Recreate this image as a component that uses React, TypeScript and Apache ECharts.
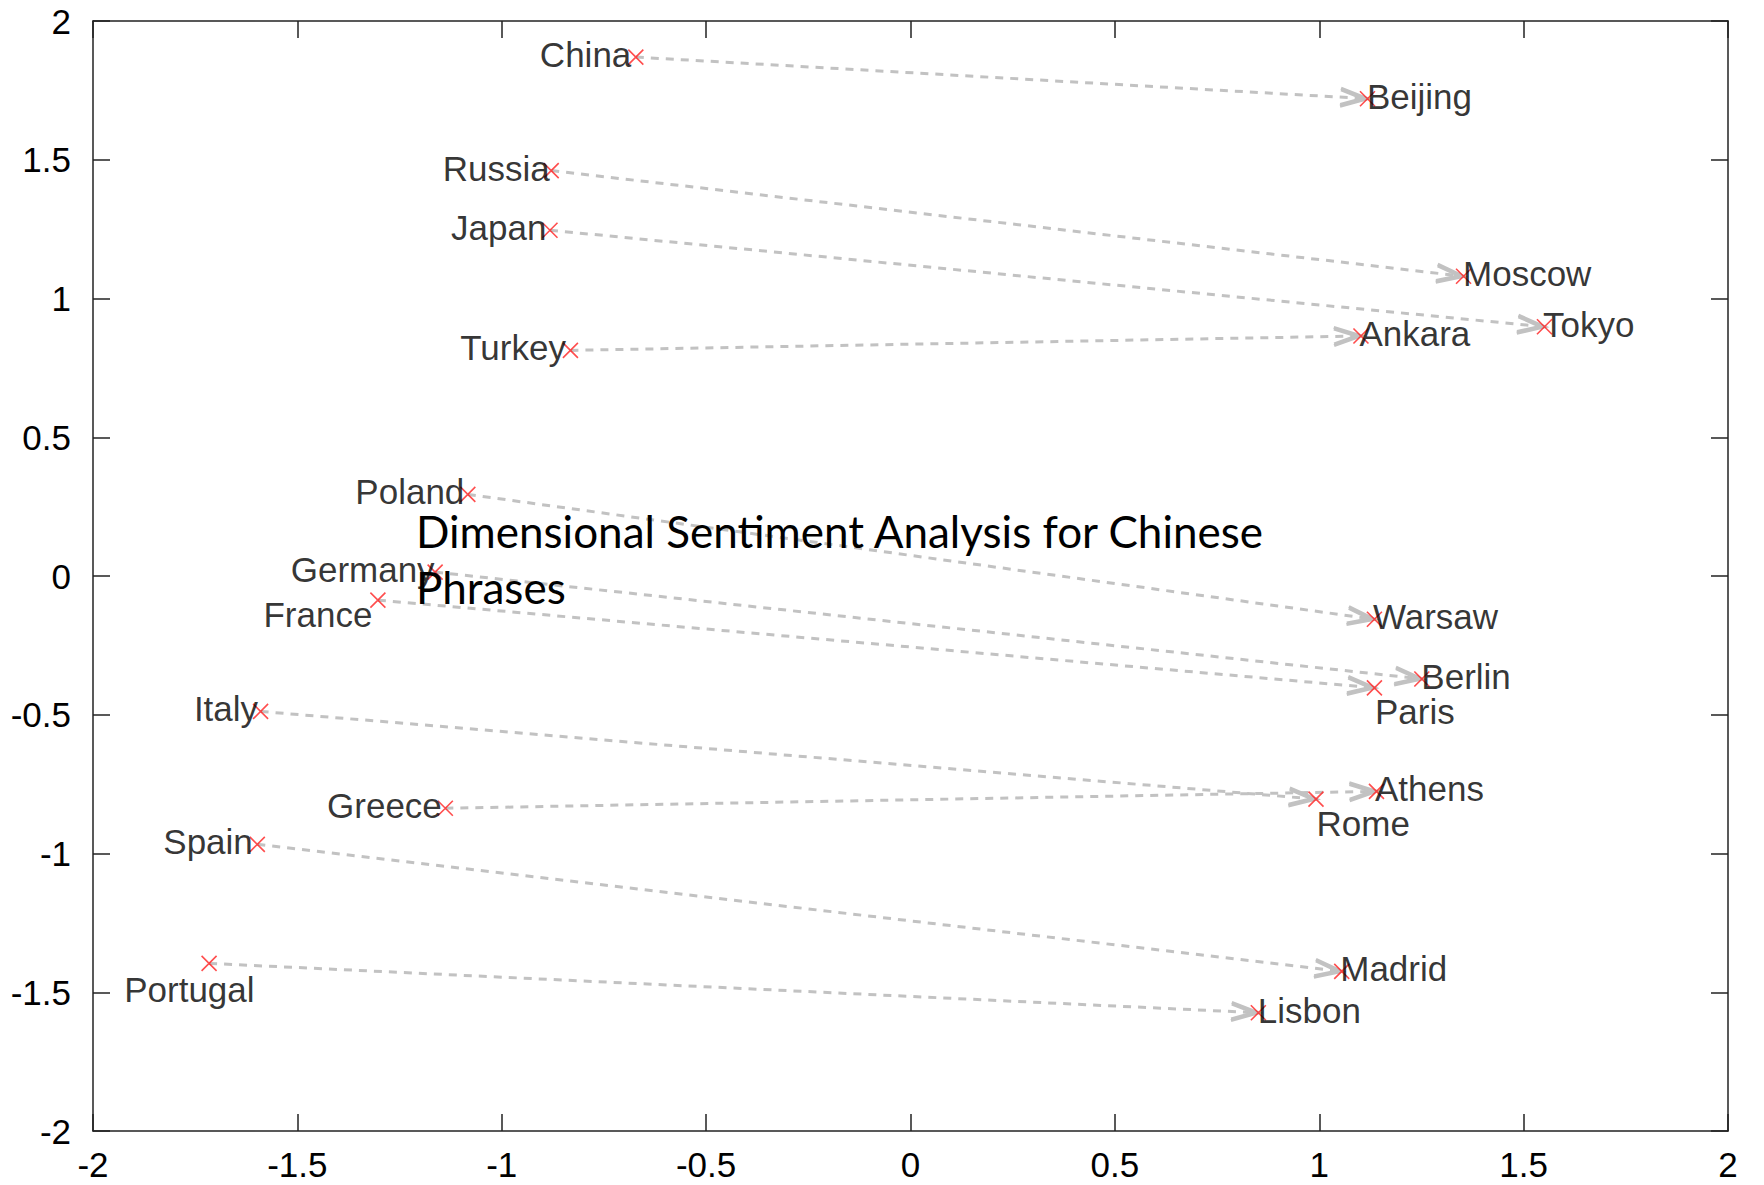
import React, { useEffect, useRef } from "react";
import * as echarts from "echarts";

// Country (start) points and capital (end) points
const countries = ["China", "Russia", "Japan", "Turkey", "Poland", "Germany", "France", "Italy", "Greece", "Spain", "Portugal"];
const countryX = [-0.672, -0.879, -0.882, -0.832, -1.083, -1.163, -1.303, -1.59, -1.138, -1.598, -1.716];
const countryY = [1.87, 1.461, 1.246, 0.813, 0.294, 0.014, -0.087, -0.488, -0.837, -0.967, -1.396];

const capitals = ["Beijing", "Moscow", "Tokyo", "Ankara", "Warsaw", "Berlin", "Paris", "Rome", "Athens", "Madrid", "Lisbon"];
const capitalX = [1.118, 1.353, 1.551, 1.102, 1.135, 1.251, 1.135, 0.992, 1.14, 1.055, 0.851];
const capitalY = [1.72, 1.08, 0.898, 0.865, -0.156, -0.371, -0.403, -0.804, -0.776, -1.425, -1.574];

const titleLines = ["Dimensional Sentiment Analysis for Chinese", "Phrases"];

// label placement styles (offset from marker centre in px)
const labelStyle: Record<string, { align: string; dx: number; dy: number }> = {
  China: { align: "right", dx: -2, dy: 0 },
  Russia: { align: "right", dx: 1, dy: 0 },
  Japan: { align: "right", dx: -1, dy: 0 },
  Turkey: { align: "right", dx: -2, dy: 0 },
  Poland: { align: "right", dx: -1, dy: 0 },
  Germany: { align: "right", dx: 2, dy: 0 },
  France: { align: "right", dx: -3, dy: 17 },
  Italy: { align: "right", dx: 0, dy: 0 },
  Greece: { align: "right", dx: -1, dy: 0 },
  Spain: { align: "right", dx: -2, dy: 0 },
  Portugal: { align: "right", dx: 48, dy: 29 },
  Beijing: { align: "left", dx: 2, dy: 0 },
  Moscow: { align: "left", dx: 2, dy: 0 },
  Tokyo: { align: "left", dx: 1, dy: 0 },
  Ankara: { align: "left", dx: 1, dy: 0 },
  Warsaw: { align: "left", dx: 1, dy: 0 },
  Berlin: { align: "left", dx: 2, dy: 0 },
  Paris: { align: "left", dx: 3, dy: 26 },
  Rome: { align: "left", dx: 3, dy: 27 },
  Athens: { align: "left", dx: 1, dy: 0 },
  Madrid: { align: "left", dx: 1, dy: 0 },
  Lisbon: { align: "left", dx: 2, dy: 0 },
};

const SYM = 15;
const FONT = "'Liberation Sans', Arial, Helvetica, sans-serif";
const ARROW = "#c2c2c2";

export default function App() {
  const ref = useRef<HTMLDivElement>(null);
  useEffect(() => {
    document.body.style.margin = "0";
    if (!ref.current) return;
    const chart = echarts.init(ref.current, null, { renderer: "svg" });

    const axisCommon = {
      type: "value",
      min: -2,
      max: 2,
      interval: 0.5,
      splitLine: { show: false },
      axisLine: { show: true, onZero: false, lineStyle: { color: "#222", width: 1.5 } },
      axisTick: { show: true, inside: true, length: 17, lineStyle: { color: "#222", width: 1.5 } },
    };
    const labelCommon = { color: "#000", fontSize: 35, fontFamily: FONT };

    const points: any[] = [];
    const addPoint = (name: string, x: number, y: number) => {
      const s = labelStyle[name];
      points.push({
        name,
        value: [x, y],
        label: {
          show: true,
          formatter: name,
          position: [SYM / 2 + s.dx, SYM / 2 + s.dy],
          align: s.align,
          verticalAlign: "middle",
          ...labelCommon,
        },
      });
    };
    countries.forEach((n, i) => addPoint(n, countryX[i], countryY[i]));
    capitals.forEach((n, i) => addPoint(n, capitalX[i], capitalY[i]));

    const arrows = countries.map((_, i) => [countryX[i], countryY[i], capitalX[i], capitalY[i]]);

    chart.setOption({
      animation: false,
      grid: { left: 93, right: 36, top: 21, bottom: 54, containLabel: false },
      xAxis: [
        { ...axisCommon, position: "bottom", axisLabel: { ...labelCommon, margin: 16 } },
        { ...axisCommon, position: "top", axisLabel: { show: false } },
      ],
      yAxis: [
        { ...axisCommon, position: "left", axisLabel: { ...labelCommon, margin: 22 } },
        { ...axisCommon, position: "right", axisLabel: { show: false } },
      ],
      series: [
        {
          type: "custom",
          coordinateSystem: "cartesian2d",
          xAxisIndex: 0,
          yAxisIndex: 0,
          encode: { x: [0, 2], y: [1, 3] },
          data: arrows,
          silent: true,
          renderItem: (params: any, api: any) => {
            const p1 = api.coord([api.value(0), api.value(1)]);
            const p2 = api.coord([api.value(2), api.value(3)]);
            const dx = p2[0] - p1[0];
            const dy = p2[1] - p1[1];
            const len = Math.sqrt(dx * dx + dy * dy) || 1;
            const ux = dx / len;
            const uy = dy / len;
            const chevron = (back: number, L: number, W: number) => {
              const tx = p2[0] - ux * back;
              const ty = p2[1] - uy * back;
              const bx = tx - ux * L;
              const by = ty - uy * L;
              return [
                [bx - uy * W, by + ux * W],
                [tx, ty],
                [bx + uy * W, by - ux * W],
              ];
            };
            return {
              type: "group",
              children: [
                {
                  type: "line",
                  shape: { x1: p1[0], y1: p1[1], x2: p2[0], y2: p2[1] },
                  style: { stroke: ARROW, lineWidth: 3, lineDash: [8, 7], fill: null },
                },
                {
                  type: "polyline",
                  shape: { points: chevron(0, 27, 9) },
                  style: { stroke: ARROW, lineWidth: 3.2, fill: null },
                },
                {
                  type: "polyline",
                  shape: { points: chevron(6, 21, 7) },
                  style: { stroke: ARROW, lineWidth: 2.2, fill: null },
                },
              ],
            };
          },
          z: 2,
        },
        {
          type: "scatter",
          symbol: "path://M0,0L10,10M10,0L0,10",
          symbolSize: SYM,
          itemStyle: { color: "none", borderColor: "#ff2020", borderWidth: 1.6 },
          data: points,
          z: 3,
        },
      ],
      graphic: [
        {
          type: "text",
          left: 416,
          top: 503,
          z: 10,
          style: {
            text: titleLines.join("\n"),
            fill: "#000",
            font: "44px Lato, 'Open Sans', sans-serif",
            lineHeight: 56,
          },
        },
      ],
    });
    return () => chart.dispose();
  }, []);
  return <div ref={ref} style={{ width: 1764, height: 1185 }} />;
}
